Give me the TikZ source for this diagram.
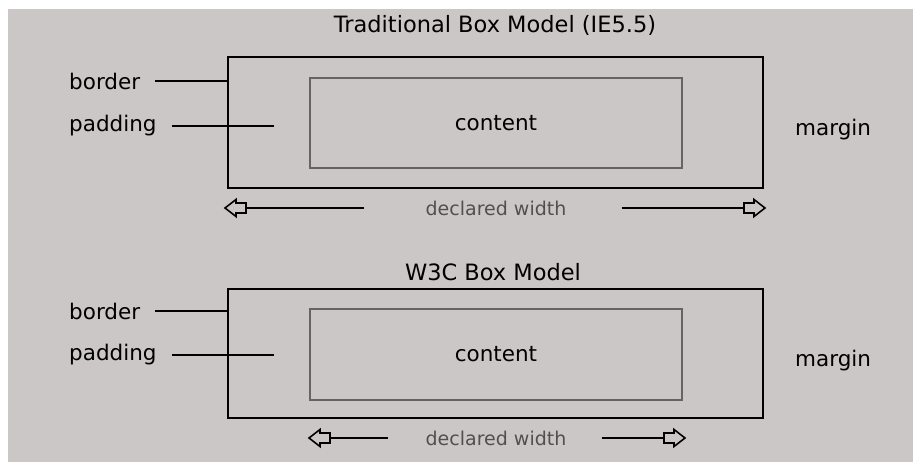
\documentclass[tikz,border=0pt]{standalone}
\usepackage{fontspec}
\setmainfont{DejaVu Sans}
\definecolor{fondo}{RGB}{204,199,199}
\definecolor{grisCont}{RGB}{100,100,100}
\definecolor{grisTexto}{RGB}{80,80,80}
\usetikzlibrary{positioning}

\tikzset{
    huecaIzq/.pic={\draw[line width=1.6pt, line join=miter]
        (0,-5) -- (-10,-5) -- (-10,-8.5) -- (-21,0) -- (-10,8.5) -- (-10,5) -- (0,5) -- cycle;},
    huecaDer/.pic={\draw[line width=1.6pt, line join=miter]
        (0,-5) -- (10,-5) -- (10,-8.5) -- (21,0) -- (10,8.5) -- (10,5) -- (0,5) -- cycle;}
}

\begin{document}
\begin{tikzpicture}[
                x=1pt, y=-1pt,
                caja/.style={draw=black, line width=2pt, inner sep=0pt},
                interior/.style={draw=grisCont, line width=2.8pt, inner sep=0pt, font=\fontsize{21.5}{24}\selectfont},
                etiq/.style={inner sep=0pt, anchor=west, font=\fontsize{21.5}{24}\selectfont},
                titulo/.style={inner sep=0pt, font=\fontsize{22.5}{25}\selectfont},
                ancho/.style={inner sep=0pt, text=grisTexto, font=\fontsize{19}{22}\selectfont},
                guia/.style={line width=2pt, black}
            ]
            \useasboundingbox (0,0) rectangle (913,462);
            \fill[fondo] (8,9) rectangle (913,462);

            % Traditional box model
            \node[titulo] (tit1) at (495,25) {Traditional Box Model (IE5.5)};
            \node[caja, minimum width=535pt, minimum height=131pt] (caja1) at (495.5,122.5) {};
            \node[interior, minimum width=372pt, minimum height=90pt] (cont1) at (496,123) {content};
            \node[etiq] (borde1) at (69,81) {border};
            \node[etiq] (pad1) at (69,126) {padding};
            \node[etiq] (marg1) at (795,130) {margin};
            \coordinate (finPad1) at (274,126);
            \draw[guia, shorten <=15pt] (borde1.east) -- (borde1.east -| caja1.west);
            \draw[guia, shorten <=15pt] (pad1.east) -- (finPad1);

            % declared width (IE)
            \node[ancho] (dw1) at (496,208) {declared width};
            \coordinate (izq1) at (246,208);
            \coordinate (der1) at (744,208);
            \draw[guia] (izq1) -- ([xshift=-61pt]dw1.west);
            \draw[guia] ([xshift=55pt]dw1.east) -- (der1);
            \pic at (izq1) {huecaIzq};
            \pic at (der1) {huecaDer};

            % W3C box model
            \node[titulo] (tit2) at (493,272) {W3C Box Model};
            \node[caja, minimum width=535pt, minimum height=129pt] (caja2) at (495.5,353.5) {};
            \node[interior, minimum width=372pt, minimum height=91pt] (cont2) at (496,354.5) {content};
            \node[etiq] (borde2) at (69,311) {border};
            \node[etiq] (pad2) at (69,355) {padding};
            \node[etiq] (marg2) at (795,361) {margin};
            \coordinate (finPad2) at (274,355);
            \draw[guia, shorten <=15pt] (borde2.east) -- (borde2.east -| caja2.west);
            \draw[guia, shorten <=15pt] (pad2.east) -- (finPad2);

            % declared width (W3C)
            \node[ancho] (dw2) at (496,438) {declared width};
            \coordinate (izq2) at (330,438);
            \coordinate (der2) at (664,438);
            \draw[guia] (izq2) -- ([xshift=-37pt]dw2.west);
            \draw[guia] ([xshift=35pt]dw2.east) -- (der2);
            \pic at (izq2) {huecaIzq};
            \pic at (der2) {huecaDer};
        \end{tikzpicture}
\end{document}
